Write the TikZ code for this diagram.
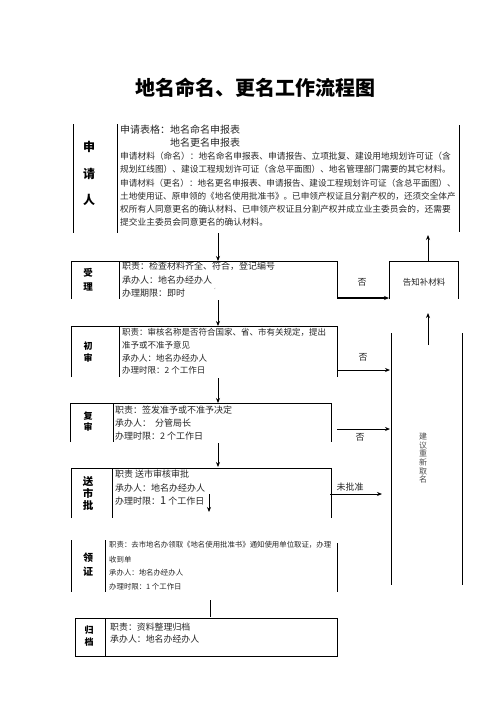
\documentclass[tikz,border=0pt]{standalone}
\usepackage{fontspec}
\setmainfont{Noto Sans CJK SC}
\usetikzlibrary{arrows.meta}
\tikzset{
  ln/.style={draw=black, line width=0.9pt},
  arr/.style={draw=black, line width=1pt, -{Stealth[length=5pt,width=4pt]}},
  tl/.style={anchor=west, inner sep=0pt, text=black!85},
  lab/.style={inner sep=0pt, align=center},
  fs/.style={font=\fontsize{#1}{#1}\selectfont}
}
\begin{document}
\begin{tikzpicture}[x=1pt,y=-1pt]
\useasboundingbox (0,0) rectangle (496,702);
\node[inner sep=0pt, font=\fontsize{20}{24}\selectfont\bfseries] (title) at (255,88) {地名命名、更名工作流程图};

% ---------- applicant ----------
\draw[ln] (73,124) -- (73,233);
\draw[ln] (117,124) -- (117,233);
\draw[ln] (459,125) -- (459,232);
\node[lab, font=\fontsize{12}{26.5}\selectfont\bfseries] (appL) at (89,173.5) {申\\请\\人};
\node[tl, fs=10] (a1) at (120,130) {申请表格：地名命名申报表};
\node[tl, fs=10] (a2) at (170,143) {地名更名申报表};
\node[tl, fs=8.7] (a3) at (120,156) {申请材料（命名）：地名命名申报表、申请报告、立项批复、建设用地规划许可证（含};
\node[tl, fs=8.7] (a4) at (120,169) {规划红线图）、建设工程规划许可证（含总平面图）、地名管理部门需要的其它材料。};
\node[tl, fs=8.6] (a5) at (120,183) {申请材料（更名）：地名更名申报表、申请报告、建设工程规划许可证（含总平面图）、};
\node[tl, fs=8.6] (a6) at (120,196) {土地使用证、原申领的《地名使用批准书》。已申领产权证且分割产权的，还须交全体产};
\node[tl, fs=8.7] (a7) at (120,209) {权所有人同意更名的确认材料、已申领产权证且分割产权并成立业主委员会的，还需要};
\node[tl, fs=8.7] (a8) at (120,222) {提交业主委员会同意更名的确认材料。};
\coordinate (appB) at (218,233);
\coordinate (appR) at (428,235);

% ---------- 受理 ----------
\draw[ln] (71,299) -- (71,261) -- (337,261) -- (337,299);
\draw[ln] (119,261) -- (119,299);
\coordinate (s1T) at (218,261);
\coordinate (s1B) at (218,300);
\coordinate (s1R) at (337,298);
\node[lab, font=\fontsize{9.5}{14}\selectfont\bfseries] (s1L) at (88,280) {受\\理};
\node[tl, fs=9] (s1a) at (122,266) {职责：检查材料齐全、符合，登记编号};
\node[tl, fs=9] (s1b) at (122,280) {承办人：地名办经办人};
\node[tl, fs=9] (s1c) at (122,293) {办理期限：即时};
\node[inner sep=0pt, font=\fontsize{5}{5}\selectfont, text=black!60] (tick) at (213,290) {`};

% ---------- 告知补材料 ----------
\draw[ln] (389,299) -- (389,261) -- (458,261) -- (458,299);
\coordinate (gT) at (428,261);
\coordinate (gL) at (389,298);
\coordinate (gB) at (428,313);
\node[inner sep=0pt, fs=8.5, text=black!85] (gz) at (424,282) {告知补材料};
\node[inner sep=0pt, fs=9, text=black!85] (no1) at (362,282) {否};

% ---------- 初审 ----------
\draw[ln] (71,377) -- (71,326) -- (337,326) -- (337,377);
\draw[ln] (119,326) -- (119,377);
\coordinate (s2T) at (218,326);
\coordinate (s2B) at (218,378);
\coordinate (s2R) at (337,370);
\node[lab, font=\fontsize{9}{12}\selectfont\bfseries] (s2L) at (88,352) {初\\审};
\node[tl, fs=8.5] (s2a) at (122,332) {职责：审核名称是否符合国家、省、市有关规定，提出};
\node[tl, fs=8.5] (s2b) at (122,345) {准予或不准予意见};
\node[tl, fs=8.5] (s2c) at (122,358) {承办人：地名办经办人};
\node[tl, fs=8.5] (s2d) at (122,370) {办理时限：2 个工作日};
\node[inner sep=0pt, fs=9, text=black!85] (no2) at (363,357) {否};

% ---------- 建议重新取名 ----------
\draw[ln] (391,333) -- (391,585);
\draw[ln] (462,333) -- (462,585);
\coordinate (jL1) at (390,370);
\coordinate (jL2) at (390,429);
\coordinate (jL3) at (382,494);
\coordinate (jT) at (428,345);
\node[lab, font=\fontsize{8}{8.7}\selectfont, text=black!70] (jz) at (423,458) {建\\议\\重\\新\\取\\名};

% ---------- 复审 ----------
\draw[ln] (70,442) -- (70,403) -- (331,403) -- (331,442);
\draw[ln] (113,403) -- (113,442);
\coordinate (s3T) at (218,403);
\coordinate (s3B) at (218,443);
\coordinate (s3R) at (337,429);
\node[lab, font=\fontsize{9}{11.5}\selectfont\bfseries] (s3L) at (88,421.5) {复\\审};
\node[tl, fs=9] (s3a) at (115,410) {职责：签发准予或不准予决定};
\node[tl, fs=9] (s3b) at (115,423) {承办人：\ \ 分管局长};
\node[tl, fs=9] (s3c) at (115,436) {办理时限：2 个工作日};
\node[inner sep=0pt, fs=9, text=black!85] (no3) at (360,437) {否};

% ---------- 送市批 ----------
\draw[ln] (71,518) -- (71,468) -- (331,468) -- (331,518);
\draw[ln] (112,468) -- (112,518);
\coordinate (s4T) at (218,467);
\coordinate (s4R) at (330,494);
\coordinate (s4i) at (209,494);
\coordinate (s4j) at (209,512);
\node[lab, font=\fontsize{10.5}{12}\selectfont\bfseries] (s4L) at (88,493) {送\\市\\批};
\node[tl, fs=9] (s4a) at (115,474) {职责 送市审核审批};
\node[tl, fs=9] (s4b) at (115,488) {承办人：地名办经办人};
\node[tl, fs=9] (s4c) at (115,501) {办理时限：{\fontsize{11}{11}\selectfont 1} 个工作日};
\node[inner sep=0pt, fs=9, text=black!85] (no4) at (350,487) {未批准};

% ---------- 领证 ----------
\draw[ln] (71,540) -- (71,592);
\draw[ln] (105,540) -- (105,592);
\draw[ln] (337,543) -- (337,592);
\coordinate (s5B) at (210,600);
\node[lab, font=\fontsize{10}{14}\selectfont\bfseries] (s5L) at (88,565) {领\\证};
\node[tl, fs=7.4] (s5a) at (109,545) {职责：去市地名办领取《地名使用批准书》通知使用单位取证，办理};
\node[tl, fs=7.4] (s5b) at (109,560) {收到单};
\node[tl, fs=7.4] (s5c) at (109,573) {承办人：地名办经办人};
\node[tl, fs=7.4] (s5d) at (109,587) {办理时限：1 个工作日};

% ---------- 归档 ----------
\draw[ln] (75,618) rectangle (337,656);
\draw[ln] (105,618) -- (105,656);
\coordinate (s6T) at (210,617);
\node[lab, font=\fontsize{9}{12}\selectfont\bfseries] (s6L) at (89,636) {归\\档};
\node[tl, fs=8.9] (s6a) at (110,627) {职责：资料整理归档};
\node[tl, fs=8.9] (s6b) at (110,639) {承办人：地名办经办人};

% ---------- connectors ----------
\draw[arr] (appB) -- (s1T);
\draw[arr] (gT) -- (appR);
\draw[arr, line width=1.4pt] (s1R) -- (gL);
\draw[arr] (s1B) -- (s2T);
\draw[arr] (jT) -- (gB);
\draw[arr] (s2R) -- (jL1);
\draw[arr] (s2B) -- (s3T);
\draw[arr] (s3R) -- (jL2);
\draw[arr] (s3B) -- (s4T);
\draw[arr] (s4R) -- (jL3);
\draw[arr] (s4i) -- (s4j);
\draw[line width=1pt] (s5B) -- (s6T);
\end{tikzpicture}
\end{document}
